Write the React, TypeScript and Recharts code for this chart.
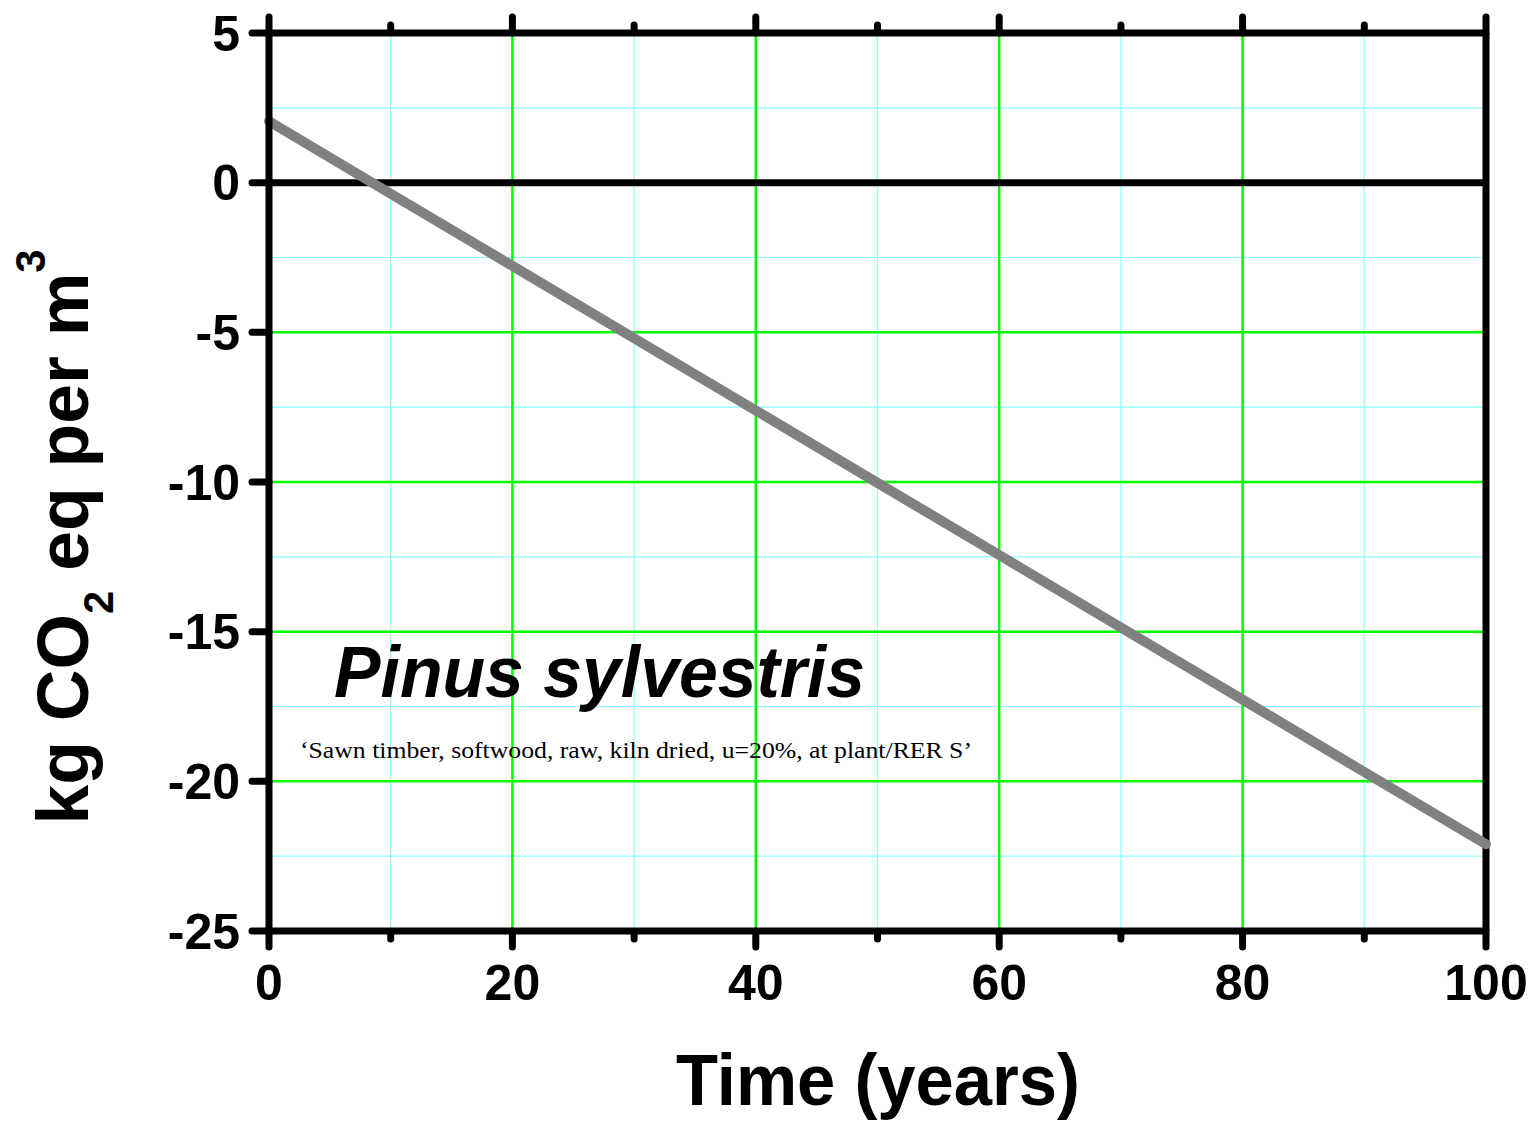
import React from 'react';
import { LineChart, Line, XAxis, YAxis, ReferenceLine } from 'recharts';

const years = [0, 10, 20, 30, 40, 50, 60, 70, 80, 90, 100];
const emissions = [2.05, -0.37, -2.78, -5.2, -7.61, -10.03, -12.44, -14.86, -17.27, -19.69, -22.1];
const xMajorTicks = [0, 20, 40, 60, 80, 100];
const xMinorTicks = [10, 30, 50, 70, 90];
const yMajorTicks = [-25, -20, -15, -10, -5, 0, 5];
const yMinorTicks = [-22.5, -17.5, -12.5, -7.5, -2.5, 2.5];
const xGridMajor = [20, 40, 60, 80];
const yGridMajor = [-20, -15, -10, -5];

const data = years.map((t, i) => ({ t, v: emissions[i] }));

const SANS = '"Liberation Sans", Arial, Helvetica, sans-serif';
const SERIF = '"Liberation Serif", "Times New Roman", serif';

const axisLineStyle = { stroke: '#000', strokeWidth: 7 };

type Side = 'bottom' | 'top' | 'left';

const makeTick = (side: Side, len: number, showLabel: boolean) => (props: any) => {
  const { x, y, payload } = props;
  const c = payload.coordinate;
  const lineProps = { stroke: '#000', strokeWidth: 7, strokeLinecap: 'round' as const };
  if (side === 'bottom') {
    const axisY = y - len;
    return (
      <g>
        <line x1={c} y1={axisY} x2={c} y2={axisY + len} {...lineProps} />
        {showLabel && (
          <text x={c} y={axisY + 33} dy="0.71em" textAnchor="middle" fill="#000" fontSize={50}
            fontWeight="bold" fontFamily={SANS}>{payload.value}</text>
        )}
      </g>
    );
  }
  if (side === 'top') {
    const axisY = y + len;
    return (
      <g>
        <line x1={c} y1={axisY} x2={c} y2={axisY - len} {...lineProps} />
      </g>
    );
  }
  const axisX = x + len;
  return (
    <g>
      <line x1={axisX} y1={c} x2={axisX - len} y2={c} {...lineProps} />
      {showLabel && (
        <text x={axisX - 29} y={c} dy="0.355em" textAnchor="end" fill="#000" fontSize={50}
          fontWeight="bold" fontFamily={SANS}>{payload.value}</text>
      )}
    </g>
  );
};

export default function App() {
  return (
    <div style={{ position: 'absolute', left: 0, top: 0, width: 1534, height: 1124, background: '#fff' }}>
      <LineChart
        width={1534}
        height={1124}
        data={data}
        margin={{ top: 31, right: 48, bottom: 191, left: 267 }}
      >
        {xMinorTicks.map((x) => (
          <ReferenceLine key={'xm' + x} xAxisId="b" yAxisId="l" x={x} stroke="#8cffff" strokeWidth={1.2} />
        ))}
        {yMinorTicks.map((y) => (
          <ReferenceLine key={'ym' + y} xAxisId="b" yAxisId="l" y={y} stroke="#8cffff" strokeWidth={1.2} />
        ))}
        {xGridMajor.map((x) => (
          <ReferenceLine key={'xg' + x} xAxisId="b" yAxisId="l" x={x} stroke="#00ff00" strokeWidth={2.5} />
        ))}
        {yGridMajor.map((y) => (
          <ReferenceLine key={'yg' + y} xAxisId="b" yAxisId="l" y={y} stroke="#00ff00" strokeWidth={2.5} />
        ))}
        <ReferenceLine xAxisId="b" yAxisId="l" y={0} stroke="#000" strokeWidth={7} />
        <ReferenceLine xAxisId="b" yAxisId="l" x={100} stroke="#000" strokeWidth={7} />

        <XAxis xAxisId="b" dataKey="t" type="number" domain={[0, 100]} ticks={xMajorTicks} interval={0}
          orientation="bottom" height={1}
          axisLine={axisLineStyle} tickLine={false} tickSize={16} tickMargin={0}
          tick={makeTick('bottom', 16, true)} />
        <XAxis xAxisId="bm" dataKey="t" type="number" domain={[0, 100]} ticks={xMinorTicks} interval={0}
          orientation="bottom" height={1}
          axisLine={false} tickLine={false} tickSize={7} tickMargin={0}
          tick={makeTick('bottom', 7, false)} />
        <XAxis xAxisId="t" dataKey="t" type="number" domain={[0, 100]} ticks={xMajorTicks} interval={0}
          orientation="top" height={1}
          axisLine={axisLineStyle} tickLine={false} tickSize={16} tickMargin={0}
          tick={makeTick('top', 16, false)} />
        <XAxis xAxisId="tm" dataKey="t" type="number" domain={[0, 100]} ticks={xMinorTicks} interval={0}
          orientation="top" height={1}
          axisLine={false} tickLine={false} tickSize={7} tickMargin={0}
          tick={makeTick('top', 7, false)} />
        <YAxis yAxisId="l" type="number" domain={[-25, 5]} ticks={yMajorTicks} interval={0}
          orientation="left" width={1}
          axisLine={axisLineStyle} tickLine={false} tickSize={17} tickMargin={0}
          tick={makeTick('left', 17, true)} />
        <YAxis yAxisId="lm" type="number" domain={[-25, 5]} ticks={yMinorTicks} interval={0}
          orientation="left" width={1}
          axisLine={false} tickLine={false} tickSize={9} tickMargin={0}
          tick={makeTick('left', 9, false)} />

        <Line xAxisId="b" yAxisId="l" dataKey="v" type="linear" stroke="#808080" strokeWidth={10}
          strokeLinecap="round" dot={false} activeDot={false} isAnimationActive={false} />
      </LineChart>

      <svg width={1534} height={1124} style={{ position: 'absolute', left: 0, top: 0, pointerEvents: 'none' }}>
        <text x={334} y={697} fontFamily={SANS} fontWeight="bold" fontStyle="italic" fontSize={72}
          textLength={531} lengthAdjust="spacingAndGlyphs" fill="#000">Pinus sylvestris</text>
        <text x={300} y={758} fontFamily={SERIF} fontSize={23} textLength={672}
          lengthAdjust="spacingAndGlyphs" fill="#000">‘Sawn timber, softwood, raw, kiln dried, u=20%, at plant/RER S’</text>
        <text x={878} y={1105} textAnchor="middle" fontFamily={SANS} fontWeight="bold" fontSize={72}
          textLength={404} lengthAdjust="spacingAndGlyphs" fill="#000">Time (years)</text>
        <text x={88} y={537} transform="rotate(-90 88 537)" textAnchor="middle" fontFamily={SANS}
          fontWeight="bold" fontSize={72} fill="#000" textLength={575} lengthAdjust="spacingAndGlyphs">
          <tspan>kg CO</tspan>
          <tspan fontSize={42} dy={25}>2</tspan>
          <tspan dy={-25}> eq per m</tspan>
          <tspan fontSize={42} dy={-43}>3</tspan>
        </text>
      </svg>
    </div>
  );
}
